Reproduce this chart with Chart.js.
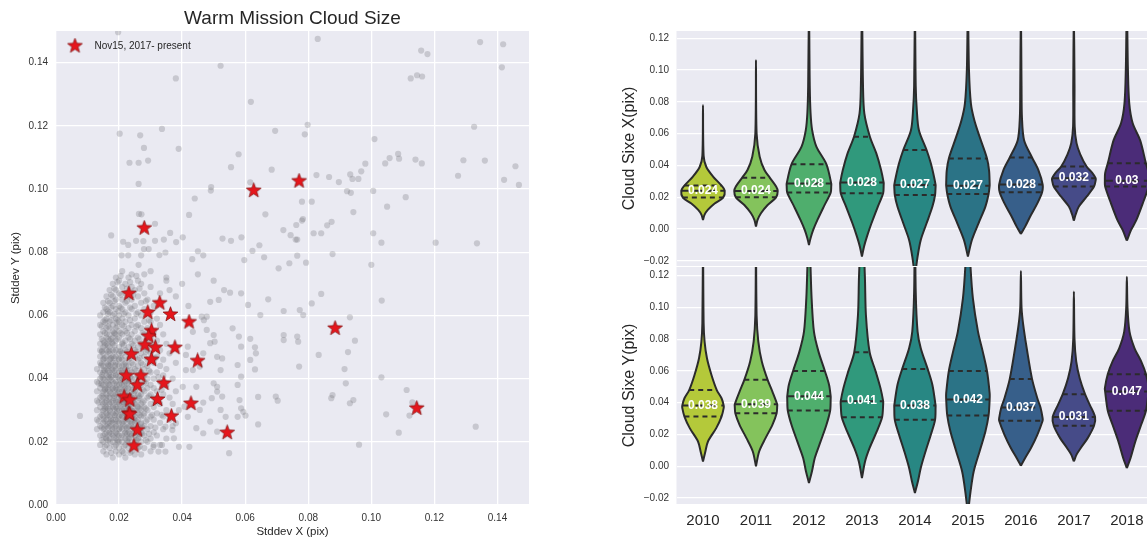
<!DOCTYPE html>
<html>
<head>
<meta charset="utf-8">
<script src="https://cdn.jsdelivr.net/npm/chart.js@4.4.1/dist/chart.umd.min.js"></script>
<style>
body { margin: 0; background: #fff; }
#wrap { position: relative; width: 1147px; height: 539px; overflow: hidden; }
canvas { position: absolute; }
</style>
</head>
<body>
<div id="wrap">
  <canvas id="scatter" width="540" height="539" style="left:0;top:0"></canvas>
  <canvas id="violinX" width="547" height="270" style="left:600px;top:0"></canvas>
  <canvas id="violinY" width="547" height="273" style="left:600px;top:266px"></canvas>
</div>
<script>
/* global Chart */
// ---------- left panel: scatter ----------
// sparse grey points [x, y]
const greyPts = [
  [0.0197,0.1496],[0.0522,0.139],[0.038,0.135],[0.083,0.1475],[0.0618,0.1276],[0.0202,0.1175],[0.0267,0.117],[0.0336,0.119],
  [0.0279,0.113],[0.0389,0.1127],[0.0233,0.1083],[0.0262,0.1083],[0.0292,0.109],[0.0262,0.1016],[0.0695,0.1184],[0.0798,0.1203],
  [0.0789,0.1173],[0.101,0.1158],[0.1326,0.1197],[0.1158,0.1438],[0.1178,0.1427],[0.1125,0.135],[0.1145,0.136],[0.1161,0.1356],
  [0.1345,0.1465],[0.1418,0.1458],[0.1414,0.1385],[0.0579,0.111],[0.0555,0.1069],[0.0684,0.1061],[0.0492,0.1006],[0.0491,0.0995],
  [0.0616,0.1021],[0.044,0.097],[0.0422,0.0918],[0.0664,0.092],[0.078,0.096],[0.0811,0.096],[0.0783,0.0905],[0.078,0.090],
  [0.0762,0.0886],[0.0721,0.087],[0.0744,0.0854],[0.076,0.084],[0.0765,0.084],[0.0817,0.086],[0.0841,0.086],[0.086,0.0885],
  [0.0874,0.0896],[0.0826,0.1044],[0.0866,0.1038],[0.0897,0.1022],[0.0933,0.1046],[0.094,0.1032],[0.0959,0.1032],[0.0968,0.1056],
  [0.0981,0.108],[0.0923,0.0993],[0.0935,0.0988],[0.1006,0.0994],[0.0943,0.0927],[0.105,0.0944],[0.1006,0.086],[0.1032,0.083],
  [0.1044,0.1081],[0.1058,0.1098],[0.1085,0.1111],[0.1088,0.1096],[0.1109,0.0974],[0.114,0.1093],[0.116,0.1081],[0.1204,0.083],
  [0.1275,0.1042],[0.1292,0.1091],[0.1335,0.0828],[0.136,0.109],[0.1421,0.1029],[0.1457,0.1072],[0.1468,0.1013],[0.1,0.076],
  [0.0175,0.0853],[0.0213,0.0833],[0.0229,0.0823],[0.0254,0.0836],[0.0263,0.0921],[0.0271,0.092],[0.0277,0.0835],[0.0314,0.089],
  [0.0314,0.0836],[0.0342,0.084],[0.0362,0.0861],[0.0381,0.0832],[0.0402,0.0847],[0.0328,0.0791],[0.0347,0.0799],[0.027,0.079],
  [0.0279,0.081],[0.0294,0.081],[0.0208,0.079],[0.0229,0.079],[0.0262,0.076],[0.0432,0.0778],[0.045,0.0803],[0.0467,0.079],
  [0.0528,0.0843],[0.0555,0.0836],[0.0588,0.0847],[0.0597,0.0775],[0.0623,0.0804],[0.0645,0.0822],[0.066,0.0784],[0.0706,0.0749],
  [0.074,0.0765],[0.0765,0.0789],[0.0793,0.0767],[0.0877,0.0794],
  [0.0076,0.0282],[0.0961,0.0191],[0.1087,0.0229],[0.1331,0.0248],[0.1047,0.0287],[0.1121,0.0283],[0.1112,0.0364],[0.113,0.0325],
  [0.1032,0.0404],[0.1033,0.0647],[0.0932,0.0594],[0.0948,0.052],[0.0926,0.0484],[0.0915,0.043],[0.0919,0.0385],[0.0932,0.0322],
  [0.0943,0.0332],[0.0877,0.0348],[0.0873,0.0338],[0.0833,0.0475],[0.0773,0.0617],[0.0784,0.0601],[0.0811,0.0638],[0.0841,0.0668],
  [0.0765,0.0533],[0.0768,0.0517],[0.0771,0.0438],[0.0697,0.0343],[0.0703,0.033],[0.0722,0.0522],[0.0722,0.0538],[0.0722,0.0614],
  [0.0673,0.0651],[0.0648,0.0601],[0.0641,0.0255],[0.0641,0.0342],[0.0631,0.0499],[0.0634,0.048],[0.0631,0.0429],[0.0616,0.0526],
  [0.0616,0.0459],[0.0609,0.0633],[0.0587,0.067],[0.0549,0.0164],[0.0576,0.0279],[0.0601,0.0283],[0.0594,0.0295],[0.0587,0.0306],
  [0.0582,0.0332],[0.0587,0.0406],[0.0576,0.038],[0.0576,0.0443],[0.0587,0.0501],[0.058,0.0533],[0.056,0.0559],[0.0552,0.0672],
  [0.0533,0.068],[0.0516,0.0649],[0.0489,0.0643],[0.0462,0.0596],[0.0469,0.0585],[0.0478,0.0554],[0.05,0.0538],[0.0503,0.0517],
  [0.0489,0.0512],[0.0511,0.0469],[0.0527,0.0464],[0.0522,0.0427],[0.05,0.0385],[0.0511,0.0374],[0.0511,0.0359],[0.0494,0.0338],
  [0.0527,0.0343],[0.0522,0.0301],[0.0538,0.0279],[0.0489,0.0264],[0.0511,0.0232],[0.0467,0.0227],[0.0445,0.0243],[0.0456,0.0301],
  [0.0467,0.0324],[0.0445,0.0374],[0.0434,0.0427],[0.0456,0.0438],[0.0467,0.048],[0.0478,0.0596],[0.0434,0.0548],[0.0418,0.0501],
  [0.0412,0.0475],[0.0412,0.0427],[0.0402,0.0374],[0.0407,0.0311],[0.0418,0.0279],[0.0423,0.0184],[0.039,0.0184],[0.0374,0.0211],
  [0.0369,0.0237],[0.038,0.0259],[0.0347,0.0248],[0.0336,0.019],[0.0325,0.0169],[0.0347,0.0169],[0.0309,0.0184],
  [0.035,0.072],[0.04,0.07],[0.045,0.073],[0.05,0.071],[0.03,0.074],[0.038,0.066],[0.042,0.063],[0.036,0.068]
];

// dense core, values x1000: one row of x positions per y level
const coreY = [15,16,17,18,19,20,21,22,23,24,25,26,27,28,29,30,31,32,33,34,35,36,37,38,39,40,41,42,43,44,
  45,46,47,48,49,50,51,52,53,54,55,56,57,58,59,60,61,62,63,64,65,66,67,68,69,70,71,72,73,74];
const coreX = [
  [18,22],[16,20,25,27],[15,19,21,24,30],[17,20,23,26,28],[14,16,19,22,25,31,33],[15,18,20,21,24,27,29],
  [16,17,19,22,23,26,30,35],[14,15,18,20,21,24,25,28,32],[16,17,19,22,23,26,27,31],[13,15,18,20,21,24,25,29,34],
  [14,16,17,19,22,23,26,28,30,37],[15,17,18,20,21,24,25,27,33],[13,16,18,19,22,23,26,29,31,36],
  [14,15,17,20,21,24,25,27,30,34],[16,18,19,22,23,26,28,32],[13,15,17,20,21,24,25,27,29,35,39],
  [14,16,18,19,22,23,26,28,31],[15,17,20,21,24,25,27,30,33,37],[13,16,18,19,22,23,26,28,32],
  [14,15,17,20,21,24,25,29,31,36],[16,18,19,22,23,26,27,30,34],[13,15,17,20,21,24,25,28,32,38],
  [14,16,18,19,22,23,26,29,31],[15,17,20,21,24,25,27,30,35],[13,16,18,19,22,23,26,28,33],
  [14,15,17,20,21,24,25,29,31,37],[16,18,19,22,23,26,28,34],[14,15,17,20,21,24,27,30,32],
  [13,16,18,19,22,25,28,35],[15,17,20,21,23,26,29,33],[14,16,18,19,22,24,27,31,38],[15,17,20,21,23,26,29,34],
  [14,16,18,19,22,25,28,32],[15,17,20,21,24,27,30,36],[14,16,18,19,22,25,29,33],[15,17,20,23,26,28,31],
  [14,16,18,21,24,27,35],[15,17,19,22,25,29,32],[16,18,20,23,26,30],[14,17,19,21,24,28,34],[15,18,20,22,25,31],
  [16,17,19,23,27,29],[14,18,21,24,26,33],[15,17,20,22,28,30],[16,19,21,25,32],[14,18,20,23,27],
  [15,17,22,26,30],[16,19,21,24,28],[18,20,25,31],[15,17,22,27],[19,21,24,29],[16,18,23,26],[20,22,28,33],
  [17,19,25],[21,24,30],[18,22,27],[20,26,35],[19,23],[24,28],[21]
];
// second, offset layer of the dense core (x1000)
const core2Y = [16.5,18.5,20.5,22.5,24.5,26.5,28.5,30.5,32.5,34.5,36.5,38.5,40.5,42.5,44.5,46.5,48.5,50.5,52.5,
  54.5,56.5,58.5,60.5,62.5,64.5,66.5,68.5,70.5,72.5];
const core2X = [
  [17.5,21.5,23.5],[15.5,18.5,21.5,24.5,26.5],[14.5,16.5,19.5,22.5,25.5,28.5],[15.5,17.5,19.5,22.5,23.5,26.5,29.5],
  [14.5,16.5,18.5,20.5,22.5,24.5,27.5,31.5],[13.5,15.5,17.5,19.5,21.5,23.5,25.5,28.5],
  [14.5,16.5,18.5,20.5,22.5,24.5,26.5,30.5,33.5],[15.5,16.5,18.5,19.5,21.5,23.5,26.5,28.5],
  [13.5,15.5,17.5,19.5,21.5,22.5,24.5,27.5,31.5],[14.5,16.5,18.5,20.5,22.5,23.5,26.5,29.5],
  [15.5,16.5,18.5,19.5,21.5,24.5,27.5,33.5],[13.5,14.5,16.5,18.5,20.5,22.5,25.5,28.5],
  [14.5,16.5,17.5,19.5,21.5,23.5,26.5,32.5],[15.5,16.5,18.5,20.5,22.5,25.5,29.5],[14.5,16.5,17.5,19.5,21.5,24.5,27.5],
  [15.5,17.5,18.5,20.5,23.5,26.5,31.5],[14.5,16.5,18.5,20.5,22.5,25.5,28.5],[15.5,16.5,18.5,21.5,24.5,30.5],
  [14.5,16.5,17.5,19.5,23.5,26.5],[15.5,18.5,20.5,22.5,27.5],[14.5,16.5,19.5,21.5,25.5],[15.5,17.5,19.5,23.5,29.5],
  [16.5,18.5,21.5,25.5],[15.5,17.5,20.5,23.5],[16.5,18.5,22.5,28.5],[17.5,20.5,24.5],[18.5,22.5,26.5],[19.5,23.5],[20.5,25.5]
];
// third layer, densest part of the core (x1000)
const core3Y = [19.8,21.3,22.7,24.2,25.6,27.1,28.3,29.7,31.2,32.6,33.9,35.3,36.8,38.1,39.6,41.2,42.7,44.1,
  46.3,48.8,51.4,54.2,57.7,61.3];
const core3X = [
  [17.2,19.6,22.8,25.1],[15.8,18.4,20.7,23.3,26.2],[16.9,19.2,21.8,24.6,27.4],[15.3,17.8,20.1,22.4,25.7],
  [16.4,18.9,21.2,23.8,26.9],[15.1,17.4,19.8,22.6,24.9],[16.2,18.7,20.9,23.4,27.8],[14.9,17.1,19.4,21.7,24.3],
  [15.7,18.1,20.4,22.9,25.8],[14.6,16.8,19.1,21.4,24.1],[15.9,18.3,20.6,23.2,26.4],[14.8,17.2,19.7,22.1,24.7],
  [15.6,17.9,20.2,22.8],[14.4,16.7,19.3,21.6,25.2],[15.4,17.6,20.3,23.1],[14.7,16.9,19.0,21.9],
  [15.2,17.7,20.8,23.6],[14.3,16.6,18.8,22.2],[15.1,17.3,19.9],[14.6,16.9,20.4],[15.3,17.8,21.1],
  [16.1,18.6],[15.7,19.2],[16.4,19.8]
];

const starX = [0.0231,0.0329,0.0291,0.0363,0.0422,0.0303,0.0294,0.0282,0.0315,0.0377,0.0239,0.0303,0.0449,0.0223,0.0269,0.0258,
  0.0342,0.0216,0.0234,0.0322,0.0428,0.0231,0.0234,0.0366,0.0258,0.0543,0.0247,0.0627,0.0771,0.028,0.0885,0.1144];
const starY = [0.0669,0.0639,0.0609,0.0603,0.0579,0.0551,0.0534,0.0506,0.0498,0.0498,0.0477,0.046,0.0456,0.0409,0.0409,0.0379,
  0.0385,0.0342,0.0332,0.0334,0.0321,0.029,0.0287,0.0281,0.0237,0.0229,0.0187,0.0995,0.1025,0.0876,0.0559,0.0306];

const scatterTicks = [0, 0.02, 0.04, 0.06, 0.08, 0.10, 0.12, 0.14];

// ---------- right panels: violins ----------
const years = ['2010','2011','2012','2013','2014','2015','2016','2017','2018'];
const violinColors = ['#b4c93a','#84c35c','#4fae6d','#30997c','#288783','#2b7386','#375f8a','#464b88','#4b2c78'];
const yTicks = [-0.02, 0, 0.02, 0.04, 0.06, 0.08, 0.10, 0.12];

// Cloud size X: outline levels, half widths (category units), quartiles, median labels
const xLevels = [
  [0.0057,0.009,0.012,0.016,0.0198,0.0241,0.0273,0.033,0.039,0.046,0.078],
  [0.0015,0.0057,0.0099,0.0151,0.0199,0.0239,0.0267,0.0323,0.0371,0.0455,0.06,0.1064],
  [-0.0101,-0.0058,-0.0006,0.0057,0.0141,0.0229,0.0267,0.0287,0.0407,0.0518,0.0622,0.073,0.09,0.14],
  [-0.0174,-0.011,-0.0048,0.0036,0.0141,0.0225,0.0278,0.0292,0.0373,0.0477,0.0581,0.0728,0.09,0.14],
  [-0.03,-0.0174,-0.0069,0.0036,0.0141,0.0214,0.0267,0.0277,0.0329,0.0413,0.0497,0.0622,0.075,0.09,0.14],
  [-0.0174,-0.0069,0.0036,0.0141,0.022,0.0272,0.0287,0.0366,0.0444,0.0581,0.0686,0.0791,0.1,0.14],
  [-0.0031,0.0015,0.0088,0.0161,0.0231,0.028,0.0371,0.045,0.0559,0.07,0.09,0.14],
  [0.0052,0.0088,0.0141,0.0203,0.0267,0.0304,0.032,0.0352,0.0393,0.047,0.054,0.0644,0.09,0.14],
  [-0.0074,-0.0006,0.0057,0.0161,0.0267,0.0304,0.0352,0.0413,0.0559,0.0665,0.0791,0.1,0.14]
];
const xWidths = [
  [0,0.03,0.09,0.22,0.38,0.41,0.35,0.19,0.063,0.012,0],
  [0,0.03,0.094,0.22,0.38,0.41,0.38,0.26,0.16,0.07,0.012,0],
  [0,0.03,0.08,0.16,0.28,0.41,0.42,0.42,0.33,0.14,0.06,0.03,0.015,0],
  [0,0.04,0.094,0.18,0.30,0.40,0.41,0.41,0.36,0.27,0.15,0.045,0.02,0],
  [0,0.05,0.11,0.22,0.33,0.38,0.39,0.39,0.36,0.30,0.22,0.075,0.035,0.015,0],
  [0,0.075,0.20,0.33,0.39,0.41,0.41,0.40,0.36,0.22,0.12,0.056,0.02,0],
  [0,0.08,0.19,0.31,0.40,0.41,0.33,0.21,0.06,0.02,0.012,0],
  [0,0.03,0.094,0.24,0.38,0.41,0.41,0.35,0.24,0.12,0.05,0.015,0.012,0],
  [0,0.08,0.18,0.30,0.41,0.415,0.41,0.36,0.25,0.11,0.045,0.02,0]
];
const xQuartiles = [
  [0.0198,0.0241,0.0273],[0.0199,0.0239,0.0323],[0.0229,0.0287,0.0407],[0.0225,0.0292,0.0581],[0.0214,0.0277,0.0497],
  [0.022,0.0272,0.0444],[0.0231,0.028,0.045],[0.0267,0.032,0.0393],[0.0267,0.0304,0.0413]
];
const xMedianText = ['0.024','0.024','0.028','0.028','0.027','0.027','0.028','0.032','0.03'];

// Cloud size Y
const yLevels = [
  [0.003,0.0093,0.0156,0.024,0.0313,0.0366,0.0383,0.0428,0.048,0.0575,0.068,0.0785,0.09,0.14],
  [-0.0001,0.0093,0.0177,0.0261,0.0334,0.0376,0.039,0.047,0.0544,0.066,0.0785,0.095,0.14],
  [-0.0106,-0.0032,0.0052,0.0156,0.0261,0.0351,0.0428,0.044,0.0512,0.06,0.0722,0.0848,0.1058,0.125,0.16],
  [-0.0074,0.0031,0.0115,0.0219,0.0308,0.0387,0.041,0.0492,0.0596,0.0718,0.0953,0.12,0.16],
  [-0.0169,-0.0095,-0.0011,0.0093,0.0198,0.0292,0.0375,0.0383,0.0512,0.0613,0.0743,0.0848,0.11,0.16],
  [-0.03,-0.0158,-0.0032,0.0093,0.0219,0.032,0.042,0.046,0.06,0.0722,0.0848,0.1058,0.125,0.16],
  [0.0003,0.0052,0.0115,0.0198,0.0286,0.0303,0.037,0.0428,0.055,0.0743,0.089,0.1,0.123],
  [0.003,0.0073,0.0115,0.0177,0.0255,0.031,0.0387,0.0454,0.0554,0.066,0.08,0.11],
  [-0.0012,0.0052,0.0156,0.0261,0.0349,0.047,0.0492,0.058,0.066,0.0743,0.0848,0.1,0.1194]
];
const yWidths = [
  [0,0.045,0.094,0.25,0.35,0.39,0.39,0.35,0.26,0.16,0.075,0.03,0.012,0],
  [0,0.06,0.18,0.31,0.39,0.40,0.40,0.31,0.22,0.11,0.044,0.012,0],
  [0,0.057,0.11,0.22,0.33,0.40,0.41,0.41,0.38,0.30,0.18,0.094,0.05,0.03,0],
  [0,0.06,0.145,0.28,0.38,0.40,0.40,0.35,0.26,0.145,0.075,0.055,0],
  [0,0.057,0.11,0.20,0.30,0.38,0.39,0.39,0.33,0.24,0.11,0.05,0.015,0],
  [0,0.05,0.11,0.22,0.33,0.39,0.41,0.41,0.36,0.28,0.19,0.094,0.05,0],
  [0,0.08,0.19,0.31,0.41,0.41,0.37,0.31,0.21,0.11,0.044,0.012,0],
  [0,0.05,0.13,0.26,0.38,0.40,0.30,0.21,0.11,0.044,0.012,0],
  [0,0.07,0.16,0.27,0.36,0.41,0.415,0.36,0.27,0.145,0.05,0.012,0]
];
const yQuartiles = [
  [0.0313,0.0383,0.048],[0.0334,0.039,0.0544],[0.0351,0.044,0.06],[0.0308,0.041,0.0718],[0.0292,0.0383,0.0613],
  [0.032,0.042,0.06],[0.0286,0.037,0.055],[0.0255,0.031,0.0454],[0.0349,0.047,0.058]
];
const yMedianText = ['0.038','0.039','0.044','0.041','0.038','0.042','0.037','0.031','0.047'];

// ---------- shared look ----------
const FONT = '"Liberation Sans", Arial, sans-serif';
const TEXT = '#262626';
const EDGE = '#2b2b2b';
Chart.defaults.font.family = FONT;
Chart.defaults.color = TEXT;

const panelBg = {
  id: 'panelBg',
  beforeDraw(chart) {
    const {ctx, chartArea: a} = chart;
    ctx.save();
    ctx.fillStyle = '#eaeaf2';
    ctx.fillRect(a.left, a.top, a.right - a.left, a.bottom - a.top);
    ctx.restore();
  }
};

const fmt = v => v.toFixed(2).replace('-', '\u2212');

function makeStar(size) {
  const c = document.createElement('canvas');
  c.width = c.height = size;
  const g = c.getContext('2d');
  const r = size / 2 - 0.7, ri = r * 0.42, m = size / 2;
  g.beginPath();
  for (let k = 0; k < 10; k++) {
    const a = -Math.PI / 2 + k * Math.PI / 5;
    const rr = k % 2 ? ri : r;
    g.lineTo(m + rr * Math.cos(a), m + rr * Math.sin(a));
  }
  g.closePath();
  g.fillStyle = '#e5161c';
  g.fill();
  g.strokeStyle = '#7a1010';
  g.lineWidth = 0.7;
  g.stroke();
  return c;
}
const starImg = makeStar(17);

// ---------- scatter chart ----------
const greyData = greyPts.map(([x, y]) => ({x, y}));
coreY.forEach((y, r) => coreX[r].forEach(x => greyData.push({x: x / 1000, y: y / 1000})));
core2Y.forEach((y, r) => core2X[r].forEach(x => greyData.push({x: x / 1000, y: y / 1000})));
core3Y.forEach((y, r) => core3X[r].forEach(x => greyData.push({x: x / 1000, y: y / 1000})));
const starData = starX.map((x, i) => ({x, y: starY[i]}));

const scatterLegend = {
  id: 'scatterLegend',
  afterDatasetsDraw(chart) {
    const {ctx} = chart;
    ctx.save();
    ctx.drawImage(starImg, 75 - 8.5, 46 - 8.5);
    ctx.fillStyle = TEXT;
    ctx.font = '10px ' + FONT;
    ctx.textBaseline = 'middle';
    ctx.fillText('Nov15, 2017- present', 94.5, 46);
    ctx.restore();
  }
};

function scatterAxis(title, isX) {
  return {
    type: 'linear', min: 0, max: 0.15,
    afterFit: s => { if (isX) s.height = 34; else s.width = 56; },
    afterBuildTicks: s => { s.ticks = scatterTicks.map(v => ({value: v})); },
    grid: {color: '#ffffff', lineWidth: 1.3, drawTicks: false},
    border: {display: false},
    ticks: {padding: isX ? 7 : 8, color: '#333', font: {size: 10}, callback: v => fmt(v), maxRotation: 0, autoSkip: false},
    title: {display: true, text: title, color: TEXT, font: {size: 11.5},
      padding: isX ? {top: 0, bottom: 0.5} : {top: 9, bottom: 0}}
  };
}

new Chart(document.getElementById('scatter'), {
  type: 'scatter',
  data: {
    datasets: [
      {label: 'Nov15, 2017- present', data: starData, pointStyle: starImg, pointRadius: 8, order: 0},
      {label: 'all', data: greyData, pointRadius: 3.1, borderWidth: 0,
        backgroundColor: 'rgba(120,120,125,0.3)', order: 1}
    ]
  },
  options: {
    responsive: false, animation: false, events: [],
    layout: {padding: {right: 11}},
    plugins: {
      legend: {display: false}, tooltip: {enabled: false},
      title: {display: true, text: 'Warm Mission Cloud Size', fullSize: false, color: TEXT,
        font: {size: 19, weight: 'normal'}, padding: {top: 6.9, bottom: 1.3}}
    },
    scales: {x: scatterAxis('Stddev X (pix)', true), y: scatterAxis('Stddev Y (pix)', false)}
  },
  plugins: [panelBg, scatterLegend]
});

// ---------- violin charts ----------
function violinDatasets(levels, widths, quarts) {
  const out = [];
  levels.forEach((lv, i) => {
    const hw = widths[i];
    const right = lv.map((v, k) => ({x: i + hw[k], y: v}));
    const left = lv.map((v, k) => ({x: i - hw[k], y: v})).reverse().slice(1);
    out.push({data: right.concat(left), showLine: true, fill: 'shape', backgroundColor: violinColors[i],
      borderColor: EDGE, borderWidth: 2, pointRadius: 0, tension: 0.3, order: 2});
    quarts[i].forEach((q, n) => {
      const w = hw[lv.indexOf(q)];
      out.push({data: [{x: i - w, y: q}, {x: i + w, y: q}], showLine: true, fill: false,
        borderColor: EDGE, borderWidth: 2, borderDash: n === 1 ? [8, 5] : [5, 4], pointRadius: 0, order: 1});
    });
  });
  return out;
}

function medianLabels(quarts, texts) {
  return {
    id: 'medianLabels',
    afterDatasetsDraw(chart) {
      const {ctx, scales: {x, y}} = chart;
      ctx.save();
      ctx.fillStyle = '#ffffff';
      ctx.font = 'bold 12px ' + FONT;
      ctx.textAlign = 'center';
      ctx.textBaseline = 'middle';
      texts.forEach((t, i) => ctx.fillText(t, x.getPixelForValue(i), y.getPixelForValue(quarts[i][1])));
      ctx.restore();
    }
  };
}

function violinChart(id, levels, widths, quarts, texts, title, yMin, yMax, showYears, pad) {
  return new Chart(document.getElementById(id), {
    type: 'scatter',
    data: {datasets: violinDatasets(levels, widths, quarts)},
    options: {
      responsive: false, animation: false, events: [],
      layout: {padding: pad},
      plugins: {legend: {display: false}, tooltip: {enabled: false}},
      scales: {
        x: {
          type: 'linear', min: -0.5, max: 8.38, display: showYears,
          afterFit: s => { s.height = showYears ? 35 : 0; s.paddingLeft = 0; s.paddingRight = 0; },
          afterBuildTicks: s => { s.ticks = years.map((yr, i) => ({value: i})); },
          grid: {display: false}, border: {display: false},
          ticks: {padding: 0, color: TEXT, font: {size: 15}, maxRotation: 0, autoSkip: false,
            callback: v => years[v]}
        },
        y: {
          min: yMin, max: yMax,
          afterFit: s => { s.width = 76.5; s.paddingTop = 0; s.paddingBottom = 0; },
          afterBuildTicks: s => { s.ticks = yTicks.map(v => ({value: v})); },
          grid: {color: '#ffffff', lineWidth: 1.3, drawTicks: false},
          border: {display: false},
          ticks: {padding: 7.5, color: '#333', font: {size: 10}, callback: v => fmt(v)},
          title: {display: true, text: title, color: TEXT, font: {size: 16}, padding: {top: 20, bottom: 0}}
        }
      }
    },
    plugins: [panelBg, medianLabels(quarts, texts)]
  });
}

violinChart('violinX', xLevels, xWidths, xQuartiles, xMedianText, 'Cloud Sixe X(pix)',
  -0.0233, 0.1246, false, {top: 31, bottom: 4, left: 0, right: 0});
violinChart('violinY', yLevels, yWidths, yQuartiles, yMedianText, 'Cloud Sixe Y(pix)',
  -0.0238, 0.1255, true, {top: 1, bottom: 0, left: 0, right: 0});
</script>
</body>
</html>
